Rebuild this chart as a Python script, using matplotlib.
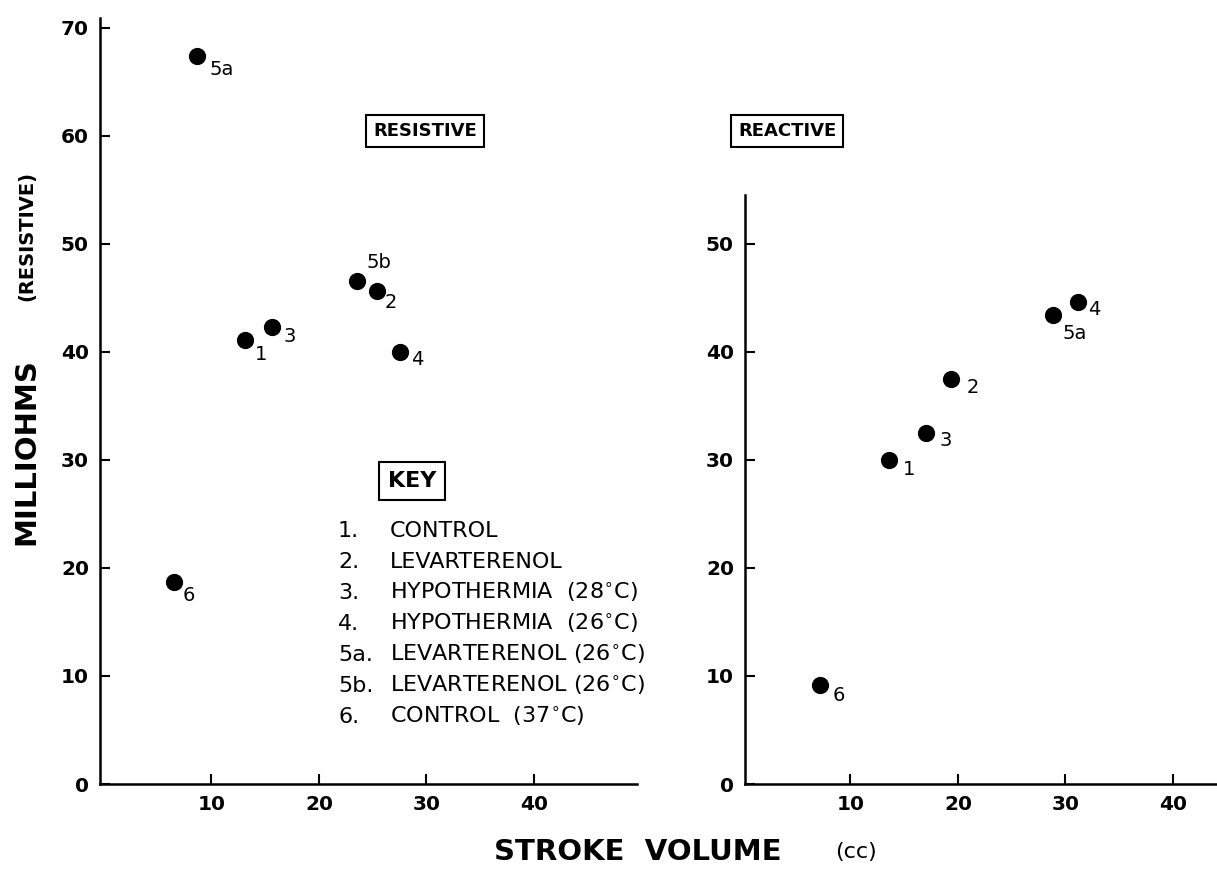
import matplotlib
matplotlib.use("Agg")
import matplotlib.pyplot as plt

W, H = 1217, 875

# ---- data ----
res_ids = ["5a", "5b", "2", "4", "1", "3", "6"]
res_sv = [8.7, 23.5, 25.4, 27.5, 13.1, 15.6, 6.5]
res_mohm = [67.4, 46.6, 45.6, 40.0, 41.1, 42.3, 18.7]

rea_ids = ["4", "5a", "2", "3", "1", "6"]
rea_sv = [31.2, 28.8, 19.4, 17.0, 13.6, 7.2]
rea_mohm = [44.6, 43.4, 37.5, 32.5, 30.0, 9.2]

key_nums = ["1.", "2.", "3.", "4.", "5a.", "5b.", "6."]
key_text = ["CONTROL", "LEVARTERENOL", "HYPOTHERMIA  (28$^{\\circ}$C)",
            "HYPOTHERMIA  (26$^{\\circ}$C)", "LEVARTERENOL (26$^{\\circ}$C)",
            "LEVARTERENOL (26$^{\\circ}$C)", "CONTROL  (37$^{\\circ}$C)"]

res_yticks = [0, 10, 20, 30, 40, 50, 60, 70]
rea_yticks = [0, 10, 20, 30, 40, 50]
xticks = [10, 20, 30, 40]

# label offsets in pixels (dx, dy downward)
res_off = {"5a": (12, 14), "5b": (10, -18), "2": (8, 11), "4": (12, 8),
           "1": (10, 15), "3": (12, 10), "6": (9, 14)}
rea_off = {"4": (10, 8), "5a": (10, 19), "2": (15, 9), "3": (14, 8),
           "1": (14, 10), "6": (12, 11)}

plt.rcParams['font.family'] = ['DejaVu Sans']
fig = plt.figure(figsize=(W / 100, H / 100), dpi=100)


def fx(px):
    return px / W


def fy(py):
    return 1 - py / H


def make_ax(x0, x1, ytop, xlim, ylim, yticks):
    ax = fig.add_axes([fx(x0), fy(784), (x1 - x0) / W, (784 - ytop) / H])
    ax.set_xlim(*xlim)
    ax.set_ylim(*ylim)
    for s in ["top", "right"]:
        ax.spines[s].set_visible(False)
    for s in ["left", "bottom"]:
        ax.spines[s].set_linewidth(1.8)
        ax.spines[s].set_color("black")
    ax.set_xticks(xticks)
    ax.set_yticks(yticks)
    ax.tick_params(direction="in", length=7, width=1.5, labelsize=14.5,
                   pad=8)
    for lab in ax.get_xticklabels() + ax.get_yticklabels():
        lab.set_fontweight("bold")
    return ax


ax1 = make_ax(100, 637, 18, (-0.37, 49.6), (0, 70.9), res_yticks)
ax2 = make_ax(745, 1217, 195, (0.19, 44.1), (0, 54.5), rea_yticks)

ax1.scatter(res_sv, res_mohm, s=130, color="black", zorder=3)
for i, x, y in zip(res_ids, res_sv, res_mohm):
    dx, dy = res_off[i]
    ax1.annotate(i, (x, y), xytext=(dx * 0.72, -dy * 0.72),
                 textcoords="offset points", ha="left", va="center",
                 fontsize=14)

ax2.scatter(rea_sv, rea_mohm, s=130, color="black", zorder=3)
for i, x, y in zip(rea_ids, rea_sv, rea_mohm):
    dx, dy = rea_off[i]
    ax2.annotate(i, (x, y), xytext=(dx * 0.72, -dy * 0.72),
                 textcoords="offset points", ha="left", va="center",
                 fontsize=14)

box = dict(boxstyle="square,pad=0.4", facecolor="white",
           edgecolor="black", linewidth=1.5)
fig.text(fx(425), fy(131), "RESISTIVE", ha="center", va="center",
         fontsize=13, fontweight="bold", bbox=box)
fig.text(fx(787), fy(131), "REACTIVE", ha="center", va="center",
         fontsize=13, fontweight="bold", bbox=box)
fig.text(fx(412), fy(481), "KEY", ha="center", va="center",
         fontsize=16, fontweight="bold", bbox=box)

for k, (n, t) in enumerate(zip(key_nums, key_text)):
    yb = 537 + k * 31
    fig.text(fx(338), fy(yb), n, ha="left", va="baseline", fontsize=16)
    fig.text(fx(390), fy(yb), t, ha="left", va="baseline", fontsize=16)

# axis titles
fig.text(fx(26), fy(452), "MILLIOHMS", rotation=90, ha="center",
         va="center", fontsize=21, fontweight="bold")
fig.text(fx(27), fy(236), "(RESISTIVE)", rotation=90, ha="center",
         va="center", fontsize=14, fontweight="bold")
fig.text(fx(638), fy(852), "STROKE  VOLUME", ha="center", va="center",
         fontsize=21, fontweight="bold")
fig.text(fx(856), fy(852), "(cc)", ha="center", va="center", fontsize=16)

fig.savefig("out.png", dpi=100)
